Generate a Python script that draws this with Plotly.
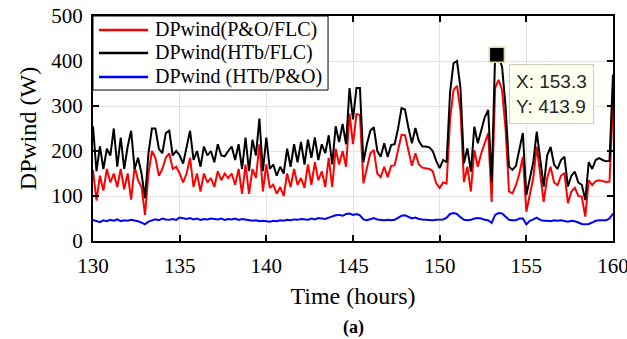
import numpy as np
import plotly.graph_objects as go

# ---- data ----
t_start, t_end, t_step = 130.0, 160.0, 0.2
time_h = np.round(np.arange(t_start, t_end + 1e-9, t_step), 2)

dp_po_flc = [
    158, 90, 145, 112, 160, 130, 150, 120, 160, 115,
    150, 92, 165, 135, 120, 58, 150, 200, 185, 145,
    160, 185, 195, 160, 165, 150, 130, 150, 185, 120,
    150, 110, 150, 130, 140, 120, 155, 135, 150, 140,
    150, 125, 160, 105, 170, 105, 160, 140, 215, 110,
    170, 118, 125, 105, 120, 100, 150, 120, 160, 125,
    140, 118, 170, 125, 175, 135, 155, 120, 185, 120,
    205, 170, 200, 165, 283, 215, 282, 280, 128, 160,
    195, 202, 150, 142, 165, 142, 167, 168, 205, 236,
    235, 202, 167, 195, 170, 163, 162, 160, 155, 128,
    118, 130, 128, 270, 335, 345, 290, 131, 165, 110,
    202, 165, 195, 220, 240, 87, 340, 358, 335, 250,
    110, 106, 124, 150, 187, 65, 105, 140, 210, 150,
    87, 140, 165, 130, 124, 145, 151, 84, 110, 118,
    100, 98, 54, 135, 124, 133, 135, 133, 131, 132,
    310,
]

dp_htb_flc = [
    255, 155, 210, 160, 205, 190, 250, 165, 230, 160,
    210, 245, 160, 185, 150, 95, 195, 250, 250, 205,
    195, 240, 245, 190, 200, 190, 172, 210, 245, 180,
    200, 165, 210, 190, 200, 175, 215, 190, 188, 200,
    210, 180, 215, 160, 230, 155, 225, 190, 272, 155,
    230, 160, 170, 145, 165, 150, 205, 165, 215, 175,
    220, 170, 225, 185, 230, 180, 215, 195, 235, 170,
    255, 220, 260, 215, 340, 270, 340, 340, 175, 215,
    245, 253, 200, 187, 217, 187, 213, 215, 250, 295,
    292, 251, 217, 251, 222, 210, 210, 208, 200, 178,
    162, 180, 175, 330, 395, 400, 340, 173, 206, 154,
    254, 217, 245, 275, 291, 130, 414, 410, 387, 300,
    165, 158, 167, 200, 240, 102, 140, 175, 243, 180,
    121, 190, 209, 170, 160, 180, 187, 121, 145, 154,
    130, 125, 91, 175, 160, 180, 184, 180, 177, 178,
    370,
]

dp_htb_po = [
    47, 44, 42, 46, 44, 47, 45, 48, 44, 46,
    45, 47, 46, 44, 41, 37, 43, 46, 48, 46,
    50, 48, 47, 49, 47, 52, 50, 49, 51, 48,
    50, 47, 49, 48, 50, 49, 48, 50, 47, 49,
    48, 50, 47, 49, 48, 47, 45, 46, 44, 45,
    44, 43, 45, 44, 46, 45, 47, 46, 48, 47,
    49, 48, 47, 50, 48, 51, 50, 49, 52, 55,
    57, 58, 56, 60, 61, 58, 60, 57, 48, 46,
    49, 51, 48, 47, 46, 47, 46, 47, 52, 56,
    57, 54, 50, 52, 49, 48, 47, 47, 46, 47,
    47, 48, 52, 60, 62, 60, 53, 47, 46, 47,
    50, 51, 50, 47, 46, 40, 58, 62, 61, 55,
    47, 46, 46, 50, 50, 37, 45, 48, 52, 47,
    45, 45, 44, 46, 45, 46, 45, 43, 45, 44,
    41, 38, 37, 38, 41, 45, 46, 46, 46, 50,
    61,
]

series_names = ["DPwind(P&O/FLC)", "DPwind(HTb/FLC)", "DPwind (HTb/P&O)"]
series_colors = ["#ff0000", "#000000", "#0000ff"]

tip_x, tip_y = 153.3, 413.9

x_ticks = [130, 135, 140, 145, 150, 155, 160]
y_ticks = [0, 100, 200, 300, 400, 500]

SERIF = "Liberation Serif"

fig = go.Figure()
for name, vals, col in zip(series_names, [dp_po_flc, dp_htb_flc, dp_htb_po], series_colors):
    fig.add_trace(go.Scatter(x=time_h, y=vals, mode="lines", name=name,
                             line=dict(color=col, width=2), showlegend=False))

# data tip marker
fig.add_trace(go.Scatter(x=[tip_x], y=[tip_y], mode="markers", showlegend=False,
                         marker=dict(symbol="square", size=15, color="black",
                                     line=dict(color="#d9d6a8", width=1.5))))

fig.add_annotation(x=tip_x, y=tip_y, xref="x", yref="y",
                   text=f"X: {tip_x}<br>Y: {tip_y}", showarrow=False,
                   xanchor="left", yanchor="top", xshift=12, yshift=-9,
                   align="left", bgcolor="#fffff0", bordercolor="#cfcfb8",
                   borderwidth=1, borderpad=6,
                   font=dict(family="Liberation Sans", size=19, color="#262626"))

fig.add_annotation(x=0.5, y=-0.385, xref="paper", yref="paper", text="<b>(a)</b>",
                   showarrow=False, xanchor="center", yanchor="middle",
                   font=dict(family=SERIF, size=18, color="black"))

# legend box (MATLAB-style, drawn on top of the plot area)
leg_x0, leg_x1, leg_y0, leg_y1 = 0.0, 0.452, 0.671, 1.0
leg_rows = [0.938, 0.836, 0.729]
fig.add_shape(type="rect", xref="paper", yref="paper", x0=leg_x0, x1=leg_x1,
              y0=leg_y0, y1=leg_y1, layer="above",
              fillcolor="white", line=dict(color="black", width=1))
for name, col, yr in zip(series_names, series_colors, leg_rows):
    fig.add_shape(type="line", xref="paper", yref="paper", x0=0.0115, x1=0.106,
                  y0=yr, y1=yr, layer="above", line=dict(color=col, width=2.5))
    fig.add_annotation(x=0.115, y=yr, xref="paper", yref="paper", text=name,
                       showarrow=False, xanchor="left", yanchor="middle",
                       font=dict(family=SERIF, size=20, color="black"))

axis_common = dict(showline=True, linecolor="black", linewidth=2, mirror="ticks",
                   ticks="inside", ticklen=6, tickwidth=2, tickcolor="black",
                   showgrid=True, gridcolor="#e3e3e3", gridwidth=1, zeroline=False,
                   ticklabeloverflow="allow", automargin=False,
                   tickfont=dict(family=SERIF, size=21, color="black"))

fig.update_xaxes(range=[t_start, t_end], tickvals=x_ticks, ticklabelstandoff=5,
                 title=dict(text="Time (hours)", font=dict(family=SERIF, size=24, color="black"),
                            standoff=10),
                 **axis_common)
fig.update_yaxes(range=[0, 500], tickvals=y_ticks, ticklabelstandoff=4,
                 title=dict(text="DPwind (W)", font=dict(family=SERIF, size=24, color="black"),
                            standoff=8),
                 **axis_common)

fig.update_layout(
    width=627, height=339,
    margin=dict(l=93, r=14, t=16, b=98, autoexpand=False),
    paper_bgcolor="white", plot_bgcolor="white",
    showlegend=False,
)

fig.write_html("out.html")
